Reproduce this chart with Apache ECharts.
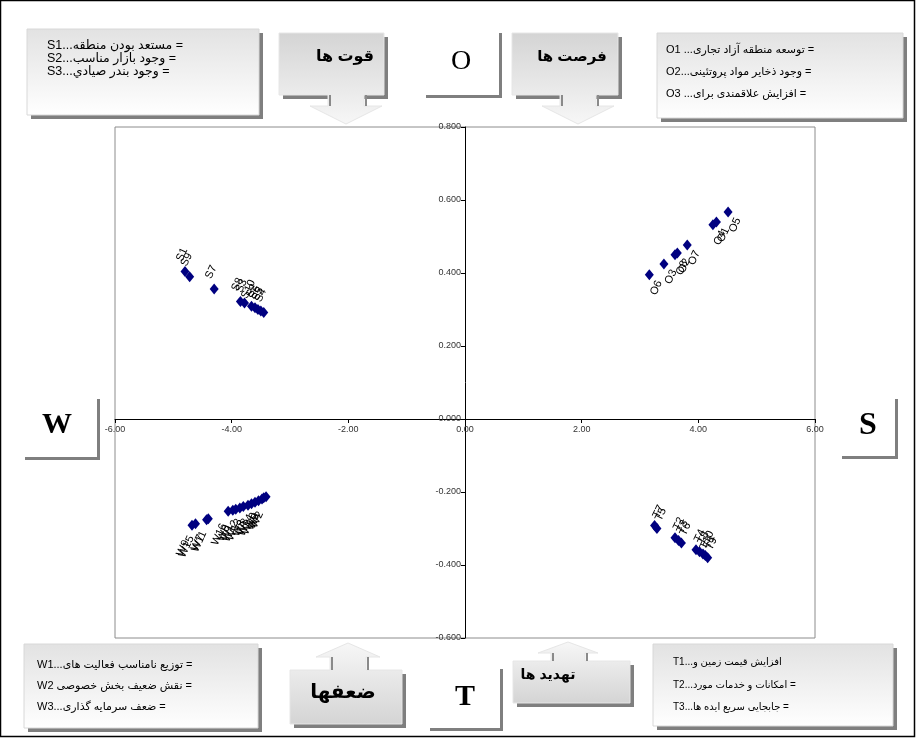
<!DOCTYPE html>
<html><head><meta charset="utf-8">
<script src="https://cdn.jsdelivr.net/npm/echarts@6/dist/echarts.min.js"></script>
<style>html,body{margin:0;padding:0;background:#fff}#c{width:916px;height:738px}</style>
</head><body><div id="c"></div>
<script>
// ---- data ----
const xTicks = [-6, -4, -2, 0, 2, 4, 6];
const yTicks = [-0.6, -0.4, -0.2, 0, 0.2, 0.4, 0.6, 0.8];

const sNames = ['S1','S9','S7','S8','S3','S10','S2','S6','S5','S4'];
const sX = [-4.80,-4.72,-4.30,-3.85,-3.78,-3.66,-3.60,-3.55,-3.50,-3.45];
const sY = [0.404,0.390,0.356,0.322,0.318,0.309,0.305,0.300,0.296,0.292];

const oNames = ['O6','O3','O8','O2','O7','O4','O1','O5'];
const oX = [3.16,3.41,3.60,3.64,3.81,4.25,4.31,4.51];
const oY = [0.395,0.425,0.450,0.455,0.477,0.532,0.540,0.567];

const wNames = ['W9','W15','W7','W11','W16','W6','W1','W12','W13','W3','W8','W14','W10','W5','W4','W2'];
const wX = [-4.68,-4.62,-4.43,-4.40,-4.06,-3.98,-3.93,-3.86,-3.80,-3.72,-3.66,-3.60,-3.54,-3.48,-3.45,-3.41];
const wY = [-0.291,-0.287,-0.276,-0.273,-0.253,-0.250,-0.247,-0.244,-0.240,-0.236,-0.232,-0.228,-0.224,-0.219,-0.216,-0.213];

const tNames = ['T7','T5','T2','T3','T6','T4','T8','T10','T1','T9'];
const tX = [3.25,3.29,3.60,3.66,3.71,3.96,4.02,4.08,4.12,4.16];
const tY = [-0.292,-0.300,-0.325,-0.333,-0.340,-0.358,-0.364,-0.370,-0.374,-0.380];

const sLegend = ['S1...مستعد بودن منطقه =','S2...وجود بازار مناسب =','S3...وجود بندر صيادي ='];
const oLegend = ['O1 ...توسعه منطقه آزاد تجاری =','O2...وجود ذخایر مواد پروتئینی =','O3 ...افزایش علاقمندی برای ='];
const wLegend = ['W1...توزیع نامناسب فعالیت های =','W2 نقش ضعیف بخش خصوصی =','W3...ضعف سرمایه گذاری ='];
const tLegend = ['T1...افزایش قیمت زمین و','T2...امکانات و خدمات مورد =','T3...جابجایی سریع ایده ها ='];
const titles = {s:'قوت ها', o:'فرصت ها', w:'ضعفها', t:'تهدید ها'};

// ---- layout ----
const G = {left:115, top:127, width:700, height:511};
const xMin = xTicks[0], xMax = xTicks[xTicks.length-1];
const yMin = yTicks[0], yMax = yTicks[yTicks.length-1];
// axes cross at zero: shift the axes from the grid edges to the zero lines
const xAxisOffset = -G.height * (0 - yMin) / (yMax - yMin);
const yAxisOffset = -G.width * (0 - xMin) / (xMax - xMin);

// ---- helpers ----
const FONT = "'Liberation Sans','DejaVu Sans',sans-serif";
const SERIF = "'Liberation Serif','DejaVu Serif',serif";
function pts(names, xs, ys){ return names.map((n,i)=>({name:n, value:[xs[i], ys[i]]})); }
function grad(c0,c1){ return {type:'linear',x:0,y:0,x2:0,y2:1,colorStops:[{offset:0,color:c0},{offset:1,color:c1}]}; }
function txt(x,y,text,font,align){
  return {type:'text', silent:true, z:20, style:{x:x,y:y,text:text,font:font,fill:'#000',
    align:align||'left', textAlign:align||'left', verticalAlign:'middle', textVerticalAlign:'middle'}};
}
function box(x,y,w,h,fill,off,stroke){
  return [
    {type:'rect', silent:true, z:10, shape:{x:x+off,y:y+off,width:w,height:h}, style:{fill:'#7f7f7f'}},
    {type:'rect', silent:true, z:11, shape:{x:x,y:y,width:w,height:h}, style:{fill:fill, stroke:stroke||null, lineWidth:1}}
  ];
}
function callout(x0,y0,w,h,cx,sh,hh,stemY,tipY,down){
  const edge = down ? y0+h : y0;
  let poly;
  if (down) {
    poly = [[x0,y0],[x0+w,y0],[x0+w,y0+h],[cx+sh,y0+h],[cx+sh,stemY],[cx+hh,stemY],[cx,tipY],[cx-hh,stemY],[cx-sh,stemY],[cx-sh,y0+h],[x0,y0+h]];
  } else {
    poly = [[x0,y0+h],[x0,y0],[cx-sh,y0],[cx-sh,stemY],[cx-hh,stemY],[cx,tipY],[cx+hh,stemY],[cx+sh,stemY],[cx+sh,y0],[x0+w,y0],[x0+w,y0+h]];
  }
  const g = down ? grad('#d4d4d4','#f7f7f7') : grad('#f7f7f7','#d4d4d4');
  return [
    {type:'rect', silent:true, z:10, shape:{x:x0+4,y:y0+4,width:w,height:h}, style:{fill:'#7f7f7f'}},
    {type:'polygon', silent:true, z:11, shape:{points:poly}, style:{fill:g, stroke:'#e6e6e6', lineWidth:1}},
    {type:'line', silent:true, z:12, shape:{x1:cx-sh+2,y1:edge,x2:cx-sh+2,y2:stemY}, style:{stroke:'#8a8a8a',lineWidth:2}},
    {type:'line', silent:true, z:12, shape:{x1:cx+sh+2,y1:edge,x2:cx+sh+2,y2:stemY}, style:{stroke:'#8a8a8a',lineWidth:2}}
  ];
}
function legendRows(x, ys, rows, size){ return rows.map((r,i)=>txt(x, ys[i], r, size+'px '+FONT, 'left')); }

const boxFill = grad('#e2e2e2','#ffffff');
let elements = [];
elements.push({type:'rect', silent:true, z:30, shape:{x:0.5,y:0.5,width:914,height:736}, style:{fill:null, stroke:'#000', lineWidth:1.5}});
// legend boxes
elements = elements.concat(box(27,29,232,86,boxFill,4,'#d8d8d8'));
elements = elements.concat(legendRows(47,[46,59,72], sLegend, 12.5));
elements = elements.concat(box(657,33,246,85,boxFill,4,'#d8d8d8'));
elements = elements.concat(legendRows(666,[50,72,94], oLegend, 11));
elements = elements.concat(box(24,644,234,84,boxFill,4,'#d8d8d8'));
elements = elements.concat(legendRows(37,[665,686,707], wLegend, 11));
elements = elements.concat(box(653,644,240,82,boxFill,4,'#d8d8d8'));
elements = elements.concat(legendRows(673,[662,685,707], tLegend, 10));
// letter boxes
elements = elements.concat(box(423,30,76,65,'#ffffff',3));
elements.push(txt(461,62,'O','28px '+SERIF,'center'));
elements = elements.concat(box(22,396,75,61,'#ffffff',3));
elements.push(txt(57,425,'W','bold 30px '+SERIF,'center'));
elements = elements.concat(box(839,396,56,60,'#ffffff',3));
elements.push(txt(868,426,'S','bold 32px '+SERIF,'center'));
elements = elements.concat(box(427,666,73,62,'#ffffff',3));
elements.push(txt(465,697,'T','bold 30px '+SERIF,'center'));
// callouts
elements = elements.concat(callout(279,33,105,62,346,18,36,106,124,true));
elements.push(txt(345,57,titles.s,'bold 16px '+FONT,'center'));
elements = elements.concat(callout(512,33,106,62,578,18,36,106,124,true));
elements.push(txt(572,57,titles.o,'bold 15px '+FONT,'center'));
elements = elements.concat(callout(290,670,112,54,348,18,32,657,643,false));
elements.push(txt(343,692,titles.w,'bold 20px '+FONT,'center'));
elements = elements.concat(callout(513,661,117,42,568,17,30,653,642,false));
elements.push(txt(548,675,titles.t,'bold 14px '+FONT,'center'));

function scat(name, data, pos){
  return {type:'scatter', name:name, data:data, symbol:'diamond', symbolSize:[9,11],
    itemStyle:{color:'#000080', opacity:1}, emphasis:{disabled:true}, z:5,
    label:{show:true, formatter:'{b}', position:pos, rotate:65, align:'center', verticalAlign:'middle',
      fontSize:11, fontFamily:FONT, color:'#000'}};
}

const chart = echarts.init(document.getElementById('c'), null, {renderer:'canvas'});
chart.setOption({
  animation:false,
  backgroundColor:'#ffffff',
  grid:{left:G.left, top:G.top, width:G.width, height:G.height, show:true, borderColor:'#8c8c8c', borderWidth:1, backgroundColor:'#fff'},
  xAxis:{type:'value', min:xMin, max:xMax, interval:2, position:'bottom', offset:xAxisOffset,
    axisLine:{onZero:false, lineStyle:{color:'#000',width:1}},
    axisTick:{show:true, length:4, lineStyle:{color:'#000'}},
    axisLabel:{formatter:v=>v.toFixed(2), fontSize:9, color:'#333', fontFamily:FONT, margin:6},
    splitLine:{show:false}},
  yAxis:{type:'value', min:yMin, max:yMax, interval:0.2, position:'left', offset:yAxisOffset,
    axisLine:{onZero:false, lineStyle:{color:'#000',width:1}},
    axisTick:{show:true, length:4, lineStyle:{color:'#000'}},
    axisLabel:{formatter:v=>(Math.abs(v)<1e-9?0:v).toFixed(3), fontSize:9, color:'#333', fontFamily:FONT, margin:4},
    splitLine:{show:false}},
  series:[
    scat('S', pts(sNames,sX,sY), [1.5,-11.5]),
    scat('O', pts(oNames,oX,oY), [11.5,18.5]),
    scat('W', pts(wNames,wX,wY), [-4.5,28.5]),
    scat('T', pts(tNames,tX,tY), [8.5,-8.5])
  ],
  graphic:{elements:elements}
});
</script></body></html>
